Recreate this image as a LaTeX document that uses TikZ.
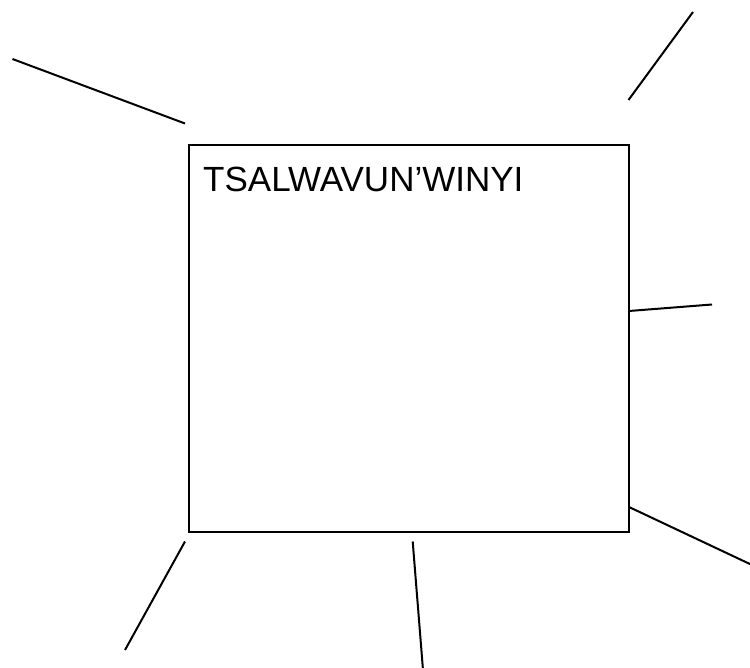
\documentclass[tikz,border=0pt]{standalone}
\usepackage{fontspec}
\setmainfont{Liberation Sans}
\begin{document}
\begin{tikzpicture}[x=1pt,y=-1pt,
  frame/.style={draw=black,line width=2pt},
  ray/.style={draw=black,line width=2pt},
  title/.style={font=\fontsize{35}{42}\selectfont,inner sep=0pt,anchor=base west}]
\useasboundingbox (0,0) rectangle (750,668);
\clip (0,0) rectangle (750,668);
\fill[white] (0,0) rectangle (750,668);
\draw[frame] (189,145) rectangle (629,531.5);
\node[title] (t) at (203,192) {TSALWAVUN’WINYI};
\coordinate (a1) at (12.5,59); \coordinate (a2) at (185,123.5);
\coordinate (b1) at (628.5,100); \coordinate (b2) at (693,12);
\coordinate (c1) at (629,311); \coordinate (c2) at (712,304.5);
\coordinate (d1) at (629,507); \coordinate (d2) at (752,565);
\coordinate (e1) at (412.7,541.5); \coordinate (e2) at (423,670);
\coordinate (f1) at (185,541.5); \coordinate (f2) at (125,650);
\draw[ray] (a1) -- (a2);
\draw[ray] (b1) -- (b2);
\draw[ray] (c1) -- (c2);
\draw[ray] (d1) -- (d2);
\draw[ray] (e1) -- (e2);
\draw[ray] (f1) -- (f2);
\end{tikzpicture}
\end{document}
